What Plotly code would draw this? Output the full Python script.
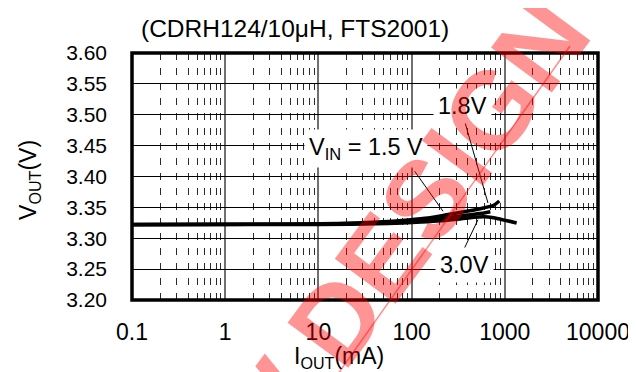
import plotly.graph_objects as go

# ---- data ----
x_15 = [0.1, 3, 16, 56, 92, 150, 247, 405, 588, 752, 873]
y_15 = [3.3223, 3.3226, 3.3239, 3.3271, 3.3296, 3.3328, 3.3385, 3.3441, 3.3490, 3.3530, 3.3603]

x_18 = [0.1, 3, 20, 56, 150, 250, 400, 600, 700]
y_18 = [3.3223, 3.3225, 3.3235, 3.3255, 3.3295, 3.3335, 3.3375, 3.3410, 3.3430]

x_30 = [0.1, 10, 56, 127, 209, 343, 518, 665, 851, 1340]
y_30 = [3.3220, 3.3222, 3.3239, 3.3263, 3.3284, 3.3317, 3.3344, 3.3344, 3.3317, 3.3247]

x_tickvals = [0.1, 1, 10, 100, 1000, 10000]
x_ticktext = ["0.1", "1", "10", "100", "1000", "10000"]
y_tickvals = [3.20, 3.25, 3.30, 3.35, 3.40, 3.45, 3.50, 3.55, 3.60]
y_ticktext = ["3.20", "3.25", "3.30", "3.35", "3.40", "3.45", "3.50", "3.55", "3.60"]

title_text = "(CDRH124/10μH, FTS2001)"
xtitle = "I<sub>OUT</sub>(mA)"
ytitle = "V<sub>OUT</sub>(V)"
labels = ["V<sub>IN</sub> = 1.5 V", "1.8V", "3.0V"]
watermark = "NEW DESIGN"

FONT = "Liberation Sans, Arial, sans-serif"

minor_vals = [m * 10 ** k for k in range(-1, 4) for m in range(2, 10)]

fig = go.Figure()
for xs, ys in [(x_30, y_30), (x_18, y_18), (x_15, y_15)]:
    fig.add_trace(go.Scatter(x=xs, y=ys, mode="lines",
                             line=dict(color="black", width=3.5, shape="spline", smoothing=0.6),
                             showlegend=False, hoverinfo="skip"))

fig.update_layout(
    width=636, height=372,
    margin=dict(l=124, r=46, t=45, b=80, autoexpand=False),
    paper_bgcolor="white", plot_bgcolor="white",
    font=dict(family=FONT, size=22, color="black"),
    showlegend=False,
)

fig.update_xaxes(
    type="log", range=[-1, 4], automargin=False,
    tickmode="array", tickvals=x_tickvals, ticktext=x_ticktext,
    ticks="", ticklabelstandoff=16,
    tickfont=dict(size=23),
    showgrid=True, gridcolor="#707070", gridwidth=1.5,
    minor=dict(tickmode="array", tickvals=minor_vals, showgrid=True,
               gridcolor="#2a2a2a", gridwidth=1, griddash="7px,8px", ticks=""),
    zeroline=False, showline=False,
)
fig.update_yaxes(
    range=[3.20, 3.60], automargin=False,
    tickmode="array", tickvals=y_tickvals, ticktext=y_ticktext,
    ticks="", ticklabelstandoff=24,
    tickfont=dict(size=21),
    showgrid=True, gridcolor="black", gridwidth=1.2,
    zeroline=False, showline=False,
)

# frame
fig.add_shape(type="rect", xref="x domain", yref="y domain", x0=0, x1=1, y0=0, y1=1,
              line=dict(color="black", width=3.5), layer="above")

# pointer lines
ptr = [((0.6067, 0.5211), (0.6674, 0.3591)),
       ((0.7139, 0.7235), (0.7639, 0.3927)),
       ((0.7425, 0.3251), (0.7067, 0.1834))]
for (a, b) in ptr:
    fig.add_shape(type="line", xref="paper", yref="paper", x0=a[0], y0=a[1], x1=b[0], y1=b[1],
                  line=dict(color="black", width=1), layer="above")

C = dict(xanchor="center", yanchor="middle", showarrow=False, xref="paper", yref="paper")

# curve labels with white boxes
for txt, (px, py) in zip(labels, [(0.502, 0.615), (0.710, 0.785), (0.714, 0.143)]):
    fig.add_annotation(text=txt, x=px, y=py, font=dict(size=23.5),
                       bgcolor="white", borderpad=4, **C)

# title and axis titles
fig.add_annotation(text=title_text, x=0.35, y=1.10, font=dict(size=24.5), **C)
fig.add_annotation(text=xtitle, x=0.444, y=-0.232, font=dict(size=23), **C)
fig.add_annotation(text=ytitle, x=-0.219, y=0.486, textangle=-90, font=dict(size=23), **C)

# watermark
fig.add_shape(type="line", xref="paper", yref="paper", x0=0.9399, y0=1.0283, x1=0.4206, y1=-0.3563,
              line=dict(color="rgba(255,0,0,0.45)", width=1.5), layer="above")
fig.add_annotation(text="<b>" + watermark + "</b>", x=0.474, y=0.016, textangle=-53.5,
                   font=dict(size=110, color="rgba(255,0,0,0.42)"), **C)

fig.write_html("out.html")
